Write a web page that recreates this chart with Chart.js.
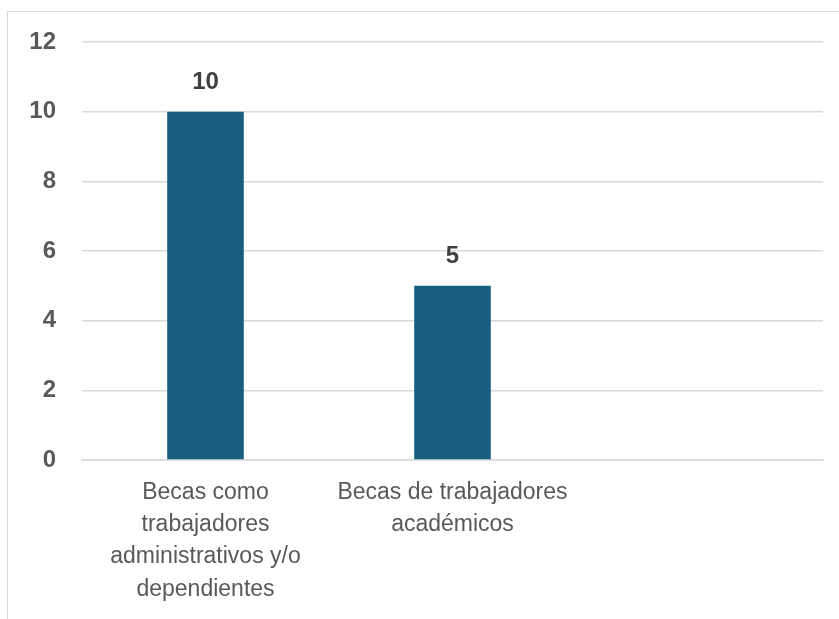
<!DOCTYPE html>
<html>
<head>
<meta charset="utf-8">
<script src="https://cdn.jsdelivr.net/npm/chart.js@4"></script>
<style>
  html, body { margin: 0; padding: 0; background: #fff; overflow: hidden; }
  #frame { position: absolute; left: 7px; top: 11px; width: 900px; height: 700px; border: 1.5px solid #d9d9d9; }
  #wrap { position: absolute; left: 0; top: 0; width: 839px; height: 619px; }
</style>
</head>
<body>
<div id="frame"></div>
<div id="wrap"><canvas id="chart" width="839" height="619"></canvas></div>
<script>
// datos del grafico
const categorias = [
    ['Becas como', 'trabajadores', 'administrativos y/o', 'dependientes'],
    ['Becas de trabajadores', 'académicos'],
    ''
];
const valores = [10, 5, null];
const ticksY = [0, 2, 4, 6, 8, 10, 12];

// etiquetas encima de cada barra
const etiquetas = {
    id: 'etiquetas',
    afterDatasetsDraw(chart) {
        const ctx = chart.ctx;
        const meta = chart.getDatasetMeta(0);
        ctx.save();
        ctx.font = 'bold 24px "Liberation Sans", Arial, sans-serif';
        ctx.fillStyle = '#404040';
        ctx.textAlign = 'center';
        ctx.textBaseline = 'middle';
        meta.data.forEach(function (bar, i) {
            if (valores[i] == null) return;
            ctx.fillText(String(valores[i]), bar.x, bar.y - 29);
        });
        ctx.restore();
    }
};

new Chart(document.getElementById('chart'), {
    type: 'bar',
    data: {
        labels: categorias,
        datasets: [{
            data: valores,
            backgroundColor: '#175E81',
            categoryPercentage: 1,
            barPercentage: 0.31
        }]
    },
    options: {
        responsive: false,
        animation: false,
        devicePixelRatio: 1,
        layout: { padding: { top: 42, right: 16, left: 0, bottom: 0 } },
        plugins: { legend: { display: false }, tooltip: { enabled: false } },
        scales: {
            x: {
                grid: { display: false, drawTicks: false },
                border: { color: '#d9d9d9', width: 1.5 },
                ticks: {
                    color: '#595959',
                    padding: 16,
                    maxRotation: 0,
                    autoSkip: false,
                    font: { family: '"Liberation Sans", Arial, sans-serif', size: 23, lineHeight: 1.41 }
                },
                afterFit(scale) { scale.height = 159; }
            },
            y: {
                min: 0,
                max: 12,
                afterBuildTicks(scale) { scale.ticks = ticksY.map(v => ({ value: v })); },
                grid: { color: '#d9d9d9', lineWidth: 1.5, drawTicks: false },
                border: { display: false },
                ticks: {
                    color: '#595959',
                    padding: 26,
                    font: { family: '"Liberation Sans", Arial, sans-serif', size: 24, weight: 'bold' }
                },
                afterFit(scale) { scale.width = 82; }
            }
        }
    },
    plugins: [etiquetas]
});
</script>
</body>
</html>
